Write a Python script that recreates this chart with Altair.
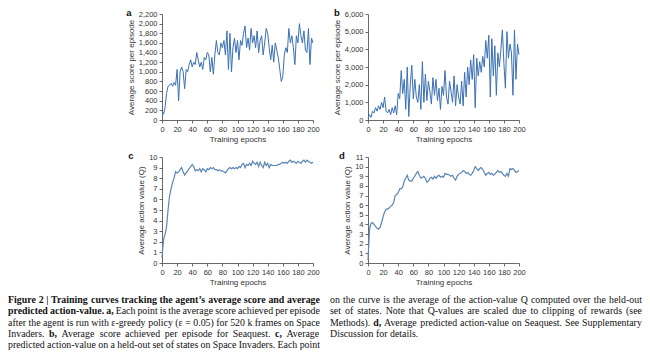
import altair as alt
import pandas as pd

# ---------------- data ----------------
epochs = list(range(0, 201, 2))

score_invaders = [
    200, 120, 250, 550, 700, 720, 760, 700, 780, 720,
    1050, 400, 1000, 1100, 1000, 650, 1050, 1000, 1150, 1250,
    1100, 1200, 1150, 1400, 1250, 1100, 1200, 1050, 1300, 1250,
    1400, 1350, 1000, 1300, 950, 1350, 1650, 1400, 1350, 1600,
    1500, 1650, 1350, 1850, 1050, 1800, 1000, 1500, 1700, 1400,
    1650, 1250, 1650, 1550, 1800, 1950, 1500, 1700, 1450, 1900,
    1600, 1750, 1500, 1850, 1400, 1650, 1750, 1350, 1600, 1900,
    1800, 1500, 1250, 1550, 1200, 1600, 1450, 1300, 1050, 800,
    900, 1350, 1500, 1400, 1900, 1600, 1750, 1500, 1150, 1750,
    1600, 2000, 1750, 1600, 1850, 1450, 1400, 1900, 1150, 1700,
    1600,
]

score_seaquest = [
    100, 300, 150, 500, 400, 700, 500, 800, 600, 1000,
    700, 1300, 500, 400, 600, 300, 700, 400, 800, 300,
    1500, 1200, 2800, 1500, 2300, 600, 3000, 200, 2000, 3100,
    1200, 2300, 1300, 1000, 2000, 600, 3300, 1000, 2600, 1100,
    2200, 1600, 900, 2400, 1400, 2300, 1100, 1800, 600, 1900,
    1400, 2800, 1300, 900, 2200, 1600, 1000, 2500, 800, 2000,
    1300, 900, 2200, 800, 2700, 1300, 3000, 2000, 3400, 2300,
    3700, 700, 3500, 2500, 3300, 2700, 3600, 3000, 4500, 3500,
    4800, 1300, 4600, 2500, 4200, 1400, 3800, 3000, 4000, 5100,
    3200, 1800, 5000, 3500, 4300, 3800, 1400, 5100, 2300, 4300,
    3700,
]

q_invaders = [
    0.5, 2.2, 2.7, 3.4, 5.0, 6.3, 7.0, 7.6, 8.0, 8.6,
    8.5, 8.6, 8.8, 9.0, 8.6, 8.3, 8.5, 8.7, 8.9, 9.1,
    9.3, 9.1, 8.7, 8.8, 8.7, 8.9, 8.6, 8.9, 8.8, 8.6,
    8.9, 8.8, 9.0, 8.9, 9.0, 8.8, 8.8, 8.7, 8.8, 8.7,
    8.7, 8.6, 8.5, 8.7, 8.9, 9.0, 8.9, 9.0, 8.9, 9.0,
    8.9, 9.1, 9.0, 9.3, 9.4, 9.0, 9.3, 9.2, 9.4, 9.2,
    9.6, 9.4, 9.3, 9.5, 9.1, 9.5, 9.2, 9.0, 9.5, 9.2,
    9.4, 9.0, 9.3, 9.2, 9.2, 9.2, 9.2, 9.3, 9.3, 9.4,
    9.5, 9.4, 9.5, 9.4, 9.6, 9.7, 9.5, 9.6, 9.5, 9.4,
    9.6, 9.5, 9.4, 9.6, 9.7, 9.5, 9.7, 9.6, 9.5, 9.4,
    9.5,
]

q_seaquest = [
    0.3, 3.5, 4.1, 4.2, 4.0, 3.8, 3.6, 3.5, 3.7, 4.2,
    4.8, 5.3, 5.6, 5.6, 5.7, 5.9, 6.0, 6.3, 7.0, 7.1,
    7.3, 7.7, 7.7, 7.9, 8.5, 8.8, 9.1, 8.6, 8.5, 8.5,
    8.8, 9.0, 9.3, 9.5, 9.1, 8.8, 8.9, 9.0, 8.8, 8.4,
    8.5, 8.8, 8.9, 8.7, 9.0, 8.8, 9.0, 9.1, 8.9, 9.0,
    8.9, 9.3, 9.2, 9.2, 9.1, 9.0, 9.1, 8.8, 8.6, 9.0,
    9.2, 9.3, 9.4, 9.6, 9.5, 9.3, 9.4, 9.2, 9.1, 9.3,
    9.6, 10.0, 9.8, 9.6, 9.8, 9.9, 9.7, 9.4, 9.1, 9.3,
    9.4, 9.2, 9.3, 9.1, 9.2, 9.4, 9.6, 9.4, 9.5, 9.3,
    9.1, 9.0, 9.3, 9.0, 9.8, 9.7, 9.8, 9.6, 9.4, 9.5,
    9.6,
]

x_ticks = list(range(0, 201, 20))
ticks_a = list(range(0, 2201, 200))
ticks_b = list(range(0, 6001, 1000))
ticks_c = list(range(0, 11))
ticks_d = list(range(0, 12))

panel_letters = ["a", "b", "c", "d"]
x_title = "Training epochs"
y_title_score = "Average score per episode"
y_title_q = "Average action value (Q)"

caption_left = [
    "*Figure *2 *| *Training *curves *tracking *the *agent\u2019s *average *score *and *average",
    "*predicted *action-value. *a, Each point is the average score achieved per episode",
    "after the agent is run with \u03b5-greedy policy (\u03b5 = 0.05) for 520\u00a0k frames on Space",
    "Invaders. *b, Average score achieved per episode for Seaquest. *c, Average",
    "predicted action-value on a held-out set of states on Space Invaders. Each point",
]
caption_right = [
    "on the curve is the average of the action-value Q computed over the held-out",
    "set of states. Note that Q-values are scaled due to clipping of rewards (see",
    "Methods). *d, Average predicted action-value on Seaquest. See Supplementary",
    "Discussion for details.",
]

# ---------------- styling ----------------
LINE_AB = "#3a70b5"
LINE_CD = "#5a86b6"
W, H = 151, 106
CAP_FS = 9.9
CAP_W = 634
COL_W = 312
COL2_X = 322
LINE_GAP = 11.3
LEFT_PAD = 118

# Times (Liberation Serif) advance widths, 1/1000 em
_reg = {" ": 250, "\u00a0": 250, "!": 333, "(": 333, ")": 333, ",": 250, "-": 333, ".": 250,
        ":": 278, "=": 564, "|": 200, "\u2019": 333, "\u03b5": 440,
        "A": 722, "B": 667, "C": 667, "D": 722, "E": 611, "F": 556, "G": 722, "H": 722,
        "I": 333, "J": 389, "K": 722, "L": 611, "M": 889, "N": 722, "O": 722, "P": 556,
        "Q": 722, "R": 667, "S": 556, "T": 611, "U": 722, "V": 722, "W": 944, "X": 722,
        "Y": 722, "Z": 611, "a": 444, "b": 500, "c": 444, "d": 500, "e": 444, "f": 333,
        "g": 500, "h": 500, "i": 278, "j": 278, "k": 500, "l": 278, "m": 778, "n": 500,
        "o": 500, "p": 500, "q": 500, "r": 333, "s": 389, "t": 278, "u": 500, "v": 500,
        "w": 722, "x": 500, "y": 500, "z": 444}
_bold = {" ": 250, "\u00a0": 250, "!": 333, "(": 333, ")": 333, ",": 250, "-": 333, ".": 250,
         ":": 333, "=": 570, "|": 220, "\u2019": 333,
         "A": 722, "B": 667, "C": 722, "D": 722, "E": 667, "F": 611, "G": 778, "H": 778,
         "I": 389, "J": 500, "K": 778, "L": 667, "M": 944, "N": 722, "O": 778, "P": 611,
         "Q": 778, "R": 722, "S": 556, "T": 667, "U": 722, "V": 722, "W": 1000, "X": 722,
         "Y": 722, "Z": 667, "a": 500, "b": 556, "c": 444, "d": 556, "e": 444, "f": 333,
         "g": 500, "h": 556, "i": 278, "j": 333, "k": 556, "l": 278, "m": 833, "n": 556,
         "o": 500, "p": 556, "q": 556, "r": 444, "s": 389, "t": 333, "u": 556, "v": 500,
         "w": 722, "x": 500, "y": 500, "z": 444}


def tw(s, bold):
    tab = _bold if bold else _reg
    return sum(tab.get(ch, 500) for ch in s) * CAP_FS / 1000.0


def layout_column(lines, x0, last_justified):
    rows = []
    for i, line in enumerate(lines):
        words = [(w[1:], True) if w.startswith("*") else (w, False) for w in line.split(" ")]
        widths = [tw(w, b) for w, b in words]
        justify = (i < len(lines) - 1) or last_justified
        if justify and len(words) > 1:
            gap = (COL_W - sum(widths)) / (len(words) - 1)
        else:
            gap = tw(" ", False)
        x = x0
        for (w, b), wd in zip(words, widths):
            rows.append({"x": x, "y": 5 + i * LINE_GAP, "text": w, "bold": b})
            x += wd + gap
    return rows


cap_rows = layout_column(caption_left, 0, True) + layout_column(caption_right, COL2_X, False)
cap_df = pd.DataFrame(cap_rows)


def panel(values, letter, ytitle, ymax, yticks, color, sw, letter_dx, fmt):
    df = pd.DataFrame({"epoch": epochs, "v": values})
    line = alt.Chart(df).mark_line(color=color, strokeWidth=sw).encode(
        x=alt.X("epoch:Q", scale=alt.Scale(domain=[0, 200], nice=False),
                axis=alt.Axis(values=x_ticks, title=x_title, format="d")),
        y=alt.Y("v:Q", scale=alt.Scale(domain=[0, ymax], nice=False),
                axis=alt.Axis(values=yticks, format=fmt, title=ytitle)),
    )
    lab = alt.Chart(pd.DataFrame({"t": [letter]})).mark_text(
        font="Liberation Sans", fontWeight="bold", fontSize=9.5, align="center",
        baseline="middle", color="#111").encode(
        text="t:N", x=alt.value(letter_dx), y=alt.value(-1))
    return alt.layer(line, lab).properties(width=W, height=H)


pa = panel(score_invaders, panel_letters[0], y_title_score, 2200, ticks_a, LINE_AB, 1.0, -33, ",d")
pb = panel(score_seaquest, panel_letters[1], y_title_score, 6000, ticks_b, LINE_AB, 1.0, -31, ",d")
pc = panel(q_invaders, panel_letters[2], y_title_q, 10, ticks_c, LINE_CD, 1.2, -31, "d")
pd_ = panel(q_seaquest, panel_letters[3], y_title_q, 11, ticks_d, LINE_CD, 1.2, -26, "d")

grid = alt.concat(pa, pb, pc, pd_, columns=2, spacing={"row": 7, "column": 13})

spacer = alt.Chart(pd.DataFrame({"s": [0]})).mark_point(opacity=0).encode(
    x=alt.X("s:Q", axis=None), y=alt.Y("s:Q", axis=None)
).properties(width=LEFT_PAD, height=10)

top = alt.hconcat(spacer, grid, spacing=0)

base_cap = alt.Chart(cap_df)
enc = dict(x=alt.X("x:Q", scale=None, axis=None),
           y=alt.Y("y:Q", scale=None, axis=None),
           text="text:N")
cap_reg = base_cap.transform_filter("!datum.bold").mark_text(
    font="Liberation Serif", fontSize=CAP_FS, align="left", baseline="middle",
    color="#111").encode(**enc)
cap_bold = base_cap.transform_filter("datum.bold").mark_text(
    font="Liberation Serif", fontSize=CAP_FS, fontWeight="bold", align="left",
    baseline="middle", color="#111").encode(**enc)
caption = alt.layer(cap_reg, cap_bold).properties(width=CAP_W, height=52)

chart = alt.vconcat(top, caption, spacing=8).properties(
    padding=0
).configure_axis(
    grid=False,
    labelFont="Liberation Sans", labelFontSize=7.5, labelColor="#333",
    titleFont="Liberation Sans", titleFontSize=8, titleFontWeight="normal",
    titleColor="#333", domainColor="#444", tickColor="#444", tickSize=3,
    domainWidth=0.8, tickWidth=0.8, labelPadding=2, titlePadding=3,
    labelOverlap=False, labelFlush=False,
).configure_view(strokeWidth=0)

chart.save("out.html", embed_options={"renderer": "svg", "actions": False})
